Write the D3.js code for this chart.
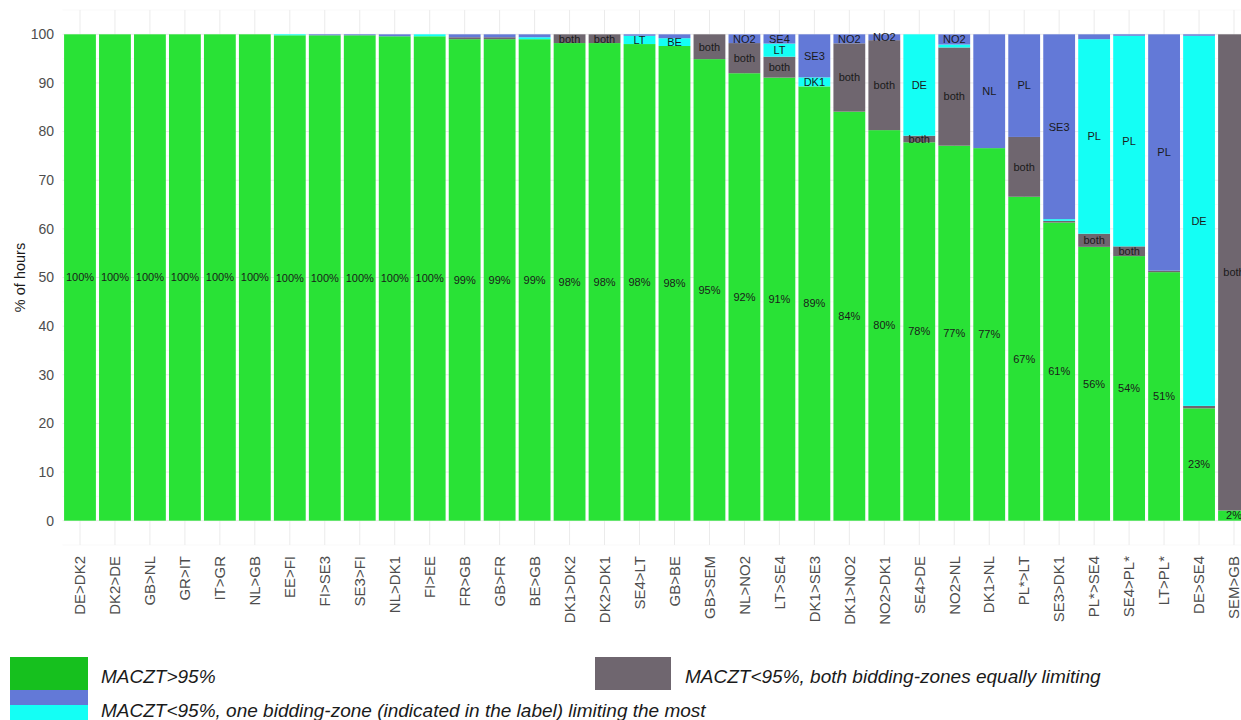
<!DOCTYPE html>
<html>
<head>
<meta charset="utf-8">
<script src="https://cdn.jsdelivr.net/npm/d3@7"></script>
<style>
  body { margin: 0; background: #fff; }
  svg { display: block; font-family: "Liberation Sans", Arial, sans-serif; }
</style>
</head>
<body>
<div id="chart"></div>
<script>
// Define constants
const WIDTH = 1241;
const HEIGHT = 720;
const COLOUR_GREEN = "#29e236";
const COLOUR_BOTH = "#6f666f";
const COLOUR_CYAN = "#14fff5";
const COLOUR_BLUE = "#6379d7";
const COLOUR_GRID = "#ebebeb";
const COLOUR_GRID_MINOR = "#f5f5f5";

// Borders (from -> to), sorted by share of MACZT>95%
const categories = ["DE>DK2", "DK2>DE", "GB>NL", "GR>IT", "IT>GR", "NL>GB", "EE>FI", "FI>SE3", "SE3>FI",
    "NL>DK1", "FI>EE", "FR>GB", "GB>FR", "BE>GB", "DK1>DK2", "DK2>DK1", "SE4>LT", "GB>BE", "GB>SEM",
    "NL>NO2", "LT>SE4", "DK1>SE3", "DK1>NO2", "NO2>DK1", "SE4>DE", "NO2>NL", "DK1>NL", "PL*>LT",
    "SE3>DK1", "PL*>SE4", "SE4>PL*", "LT>PL*", "DE>SE4", "SEM>GB"];

// % of hours per category
const greenValues = [100, 100, 100, 100, 100, 100, 99.8, 99.8, 99.8, 99.6, 99.6, 99.0, 99.0, 99.0, 98.2, 98.2,
    98.0, 97.6, 94.9, 92.0, 91.1, 89.3, 84.1, 80.3, 77.8, 77.1, 76.6, 66.6, 61.3, 56.3, 54.4, 51.1, 23.1, 2.1];
const bothValues = [0, 0, 0, 0, 0, 0, 0, 0, 0, 0, 0, 0.4, 0.4, 0, 1.8, 1.8,
    0, 0, 5.1, 6.2, 4.3, 0, 14.05, 18.5, 1.35, 20.2, 0, 12.3, 0.35, 2.7, 2.0, 0.3, 0.5, 97.9];
const cyanValues = [0, 0, 0, 0, 0, 0, 0.2, 0, 0, 0, 0.4, 0, 0, 0.4, 0, 0,
    1.7, 1.6, 0, 0, 2.7, 1.85, 0, 0, 20.85, 0.6, 0, 0, 0.35, 40.0, 43.3, 0, 76.1, 0];
const blueValues = [0, 0, 0, 0, 0, 0, 0, 0.2, 0.2, 0.4, 0, 0.6, 0.6, 0.6, 0, 0,
    0.3, 0.8, 0, 1.8, 1.9, 8.85, 1.85, 1.2, 0, 2.1, 23.4, 21.1, 38.0, 1.0, 0.3, 48.6, 0.3, 0];

// Limiting bidding-zone labels (blank = too small to label)
const cyanZones = ["", "", "", "", "", "", "", "", "", "", "", "", "", "", "", "",
    "LT", "BE", "", "", "LT", "DK1", "", "", "DE", "", "", "", "", "PL", "PL", "", "DE", ""];
const blueZones = ["", "", "", "", "", "", "", "", "", "", "", "", "", "", "", "",
    "", "", "", "NO2", "SE4", "SE3", "NO2", "NO2", "", "NO2", "NL", "PL", "SE3", "", "", "PL", "", ""];

const yTicks = [0, 10, 20, 30, 40, 50, 60, 70, 80, 90, 100];
const yMinorTicks = [-5, 5, 15, 25, 35, 45, 55, 65, 75, 85, 95, 105];

const legendItems = [
    {label: "MACZT>95%"},
    {label: "MACZT<95%, both bidding-zones equally limiting"},
    {label: "MACZT<95%, one bidding-zone (indicated in the label) limiting the most"}
];

// Build table for stacking
let rows = categories.map((c, i) => ({
    cat: c,
    green: greenValues[i],
    both: bothValues[i],
    cyan: cyanValues[i],
    blue: blueValues[i],
    cyanZone: cyanZones[i],
    blueZone: blueZones[i]
}));

const keys = ["green", "both", "cyan", "blue"];
const fills = {green: COLOUR_GREEN, both: COLOUR_BOTH, cyan: COLOUR_CYAN, blue: COLOUR_BLUE};

let stacked = d3.stack().keys(keys)(rows);

// Scales
let x = d3.scaleBand()
    .domain(categories)
    .range([62.5, 1251.5])
    .paddingInner(0.09)
    .paddingOuter(0.045);

let y = d3.scaleLinear()
    .domain([-5, 105])
    .range([545, 10]);

let svg = d3.select("#chart")
    .append("svg")
    .attr("width", WIDTH)
    .attr("height", HEIGHT);

// Grid
let grid = svg.append("g");
grid.selectAll(".minor")
    .data(yMinorTicks)
    .join("line")
    .attr("x1", 62.5).attr("x2", WIDTH)
    .attr("y1", d => y(d)).attr("y2", d => y(d))
    .attr("stroke", COLOUR_GRID_MINOR)
    .attr("stroke-width", 0.6);
grid.selectAll(".major")
    .data(yTicks)
    .join("line")
    .attr("x1", 62.5).attr("x2", WIDTH)
    .attr("y1", d => y(d)).attr("y2", d => y(d))
    .attr("stroke", COLOUR_GRID)
    .attr("stroke-width", 1);
grid.selectAll(".vert")
    .data(categories)
    .join("line")
    .attr("x1", d => x(d) + x.bandwidth() / 2)
    .attr("x2", d => x(d) + x.bandwidth() / 2)
    .attr("y1", y(105)).attr("y2", y(-5))
    .attr("stroke", COLOUR_GRID)
    .attr("stroke-width", 1);

// Bars
svg.append("g")
    .selectAll("g")
    .data(stacked)
    .join("g")
    .attr("fill", d => fills[d.key])
    .selectAll("rect")
    .data(d => d)
    .join("rect")
    .attr("x", d => x(d.data.cat))
    .attr("width", x.bandwidth())
    .attr("y", d => y(d[1]))
    .attr("height", d => y(d[0]) - y(d[1]));

// Segment labels
let labels = [];
stacked.forEach(layer => {
    layer.forEach(d => {
        let v = d[1] - d[0];
        let txt = "";
        if (layer.key === "green") txt = Math.round(d.data.green) + "%";
        else if (layer.key === "both" && v >= 1) txt = "both";
        else if (layer.key === "cyan") txt = d.data.cyanZone;
        else if (layer.key === "blue") txt = d.data.blueZone;
        if (txt) labels.push({cat: d.data.cat, mid: (d[0] + d[1]) / 2, txt: txt});
    });
});

svg.append("g")
    .selectAll("text")
    .data(labels)
    .join("text")
    .attr("x", d => x(d.cat) + x.bandwidth() / 2)
    .attr("y", d => y(d.mid))
    .attr("dy", "0.35em")
    .attr("text-anchor", "middle")
    .attr("font-size", 11)
    .attr("fill", "#1a1a1a")
    .text(d => d.txt);

// Y axis labels
svg.append("g")
    .selectAll("text")
    .data(yTicks)
    .join("text")
    .attr("x", 54)
    .attr("y", d => y(d))
    .attr("dy", "0.35em")
    .attr("text-anchor", "end")
    .attr("font-size", 14)
    .attr("fill", "#4d4d4d")
    .text(d => d);

svg.append("text")
    .attr("transform", `translate(20, ${y(50)}) rotate(-90)`)
    .attr("dy", "0.35em")
    .attr("text-anchor", "middle")
    .attr("font-size", 14.5)
    .attr("fill", "#1a1a1a")
    .text("% of hours");

// X axis labels
svg.append("g")
    .selectAll("text")
    .data(categories)
    .join("text")
    .attr("transform", d => `translate(${x(d) + x.bandwidth() / 2}, 556) rotate(-90)`)
    .attr("dy", "0.35em")
    .attr("text-anchor", "end")
    .attr("font-size", 15)
    .attr("fill", "#4d4d4d")
    .text(d => d);

// Legend
let legend = svg.append("g")
    .attr("font-style", "italic")
    .attr("font-size", 19)
    .attr("fill", "#1a1a1a");

legend.append("rect").attr("x", 10).attr("y", 657).attr("width", 78).attr("height", 33).attr("fill", "#16c01e");
legend.append("rect").attr("x", 10).attr("y", 690).attr("width", 78).attr("height", 15).attr("fill", COLOUR_BLUE);
legend.append("rect").attr("x", 10).attr("y", 705).attr("width", 78).attr("height", 15).attr("fill", COLOUR_CYAN);
legend.append("rect").attr("x", 595).attr("y", 657).attr("width", 76).attr("height", 33).attr("fill", COLOUR_BOTH);

legend.append("text").attr("x", 101).attr("y", 683).text(legendItems[0].label);
legend.append("text").attr("x", 685).attr("y", 683).text(legendItems[1].label);
legend.append("text").attr("x", 101).attr("y", 717).text(legendItems[2].label);
</script>
</body>
</html>
